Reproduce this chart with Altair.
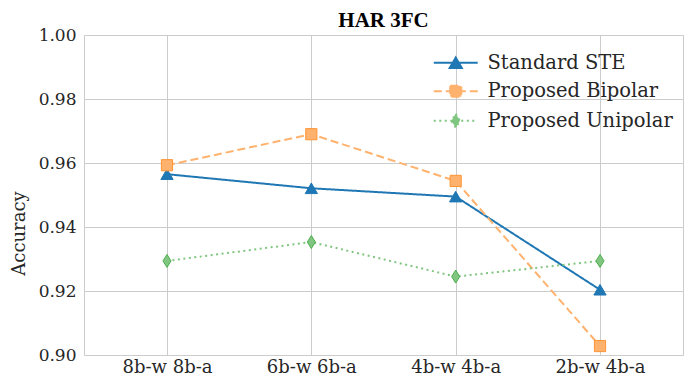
import altair as alt
import pandas as pd

categories = ["8b-w 8b-a", "6b-w 6b-a", "4b-w 4b-a", "2b-w 4b-a"]
series_names = ["Standard STE", "Proposed Bipolar", "Proposed Unipolar"]
standard_ste = [0.9565, 0.9521, 0.9495, 0.9204]
proposed_bipolar = [0.9593, 0.9690, 0.9544, 0.9028]
proposed_unipolar = [0.9294, 0.9353, 0.9245, 0.9294]
y_ticks = [0.90, 0.92, 0.94, 0.96, 0.98, 1.00]

rows = []
for name, vals in zip(series_names, [standard_ste, proposed_bipolar, proposed_unipolar]):
    for i, (c, v) in enumerate(zip(categories, vals)):
        rows.append({"series": name, "config": c, "idx": i, "acc": v})
df = pd.DataFrame(rows)

FONT = "DejaVu Serif"
TITLE_FONT = "Times New Roman"
line_colors = ["#1f77b4", "#ffb26e", "#80c680"]
edge_colors = ["#1f77b4", "#ff9434", "#4eaf4e"]
dashes = [[1, 0], [8, 4], [2, 3.5]]
marker_shapes = ["triangle-up", "square", "M0,-1L0.62,0L0,1L-0.62,0Z"]
marker_sizes = [150, 125, 170]
legend_paths = [
    "M-3.14,0L3.14,0M0,-0.74L0.86,0.74L-0.86,0.74Z",
    "M-3.14,0L3.14,0M-0.79,-0.79L0.79,-0.79L0.79,0.79L-0.79,0.79Z",
    "M-3.14,0L3.14,0M0,-1L0.6,0L0,1L-0.6,0Z",
]

color_scale = alt.Scale(domain=series_names, range=line_colors)
dash_scale = alt.Scale(domain=series_names, range=dashes)

x_enc = alt.X(
    "config:N",
    sort=categories,
    scale=alt.Scale(type="point", padding=0.575),
    axis=alt.Axis(title=None, labelAngle=0, labelPadding=3, labelFontSize=18),
)
y_enc = alt.Y(
    "acc:Q",
    scale=alt.Scale(domain=[0.90, 1.00], nice=False, zero=False),
    axis=alt.Axis(
        values=y_ticks,
        format=".2f",
        title="Accuracy",
        titleFont=FONT,
        titleFontSize=18,
        titleFontWeight="normal",
        titleColor="#262626",
        labelPadding=8,
        labelFontSize=17,
        titleY=198,
        titleX=-56,
    ),
)

base = alt.Chart(df)

leg = alt.Legend(
    title=None,
    orient="none",
    legendX=362,
    legendY=18,
    labelFont=FONT,
    labelFontSize=19.5,
    labelColor="#262626",
    labelLimit=0,
    symbolStrokeWidth=2,
    symbolOpacity=1,
    symbolSize=196,
    labelOffset=22,
    rowPadding=7.5,
)

legend_layer = base.mark_point(filled=True, opacity=0, size=196).encode(
    x=x_enc,
    y=y_enc,
    color=alt.Color("series:N", scale=color_scale, legend=leg),
    stroke=alt.Stroke("series:N", scale=alt.Scale(domain=series_names, range=line_colors), legend=leg),
    shape=alt.Shape("series:N", scale=alt.Scale(domain=series_names, range=legend_paths), legend=leg),
    strokeDash=alt.StrokeDash("series:N", scale=dash_scale, legend=leg),
)

lines = base.mark_line(strokeWidth=2).encode(
    x=x_enc,
    y=y_enc,
    order=alt.Order("idx:Q"),
    color=alt.Color("series:N", scale=color_scale, legend=None),
    strokeDash=alt.StrokeDash("series:N", scale=dash_scale, legend=None),
)

point_layers = []
for name, shp, sz, edge in zip(series_names, marker_shapes, marker_sizes, edge_colors):
    point_layers.append(
        base.transform_filter(alt.datum.series == name)
        .mark_point(shape=shp, filled=True, size=sz, stroke=edge, strokeWidth=1, opacity=1)
        .encode(
            x=x_enc,
            y=y_enc,
            color=alt.Color("series:N", scale=color_scale, legend=None),
        )
    )

chart = (
    alt.layer(legend_layer, lines, *point_layers)
    .properties(
        width=599,
        height=320,
        padding={"left": 76, "top": 27, "right": 6, "bottom": 26},
        autosize=alt.AutoSizeParams(type="none"),
        title="HAR 3FC",
    )
    .configure_title(
        font=TITLE_FONT,
        fontSize=21,
        fontWeight="bold",
        color="black",
        offset=6,
        dy=11,
        anchor="middle",
    )
    .configure_view(stroke="#cccccc", strokeWidth=1)
    .configure_axis(
        domain=False,
        ticks=False,
        grid=True,
        gridColor="#cccccc",
        gridWidth=1,
        labelFont=FONT,
        labelFontSize=18,
        labelColor="#262626",
    )
)

chart.save("out.html", embed_options={"renderer": "svg", "actions": False})
